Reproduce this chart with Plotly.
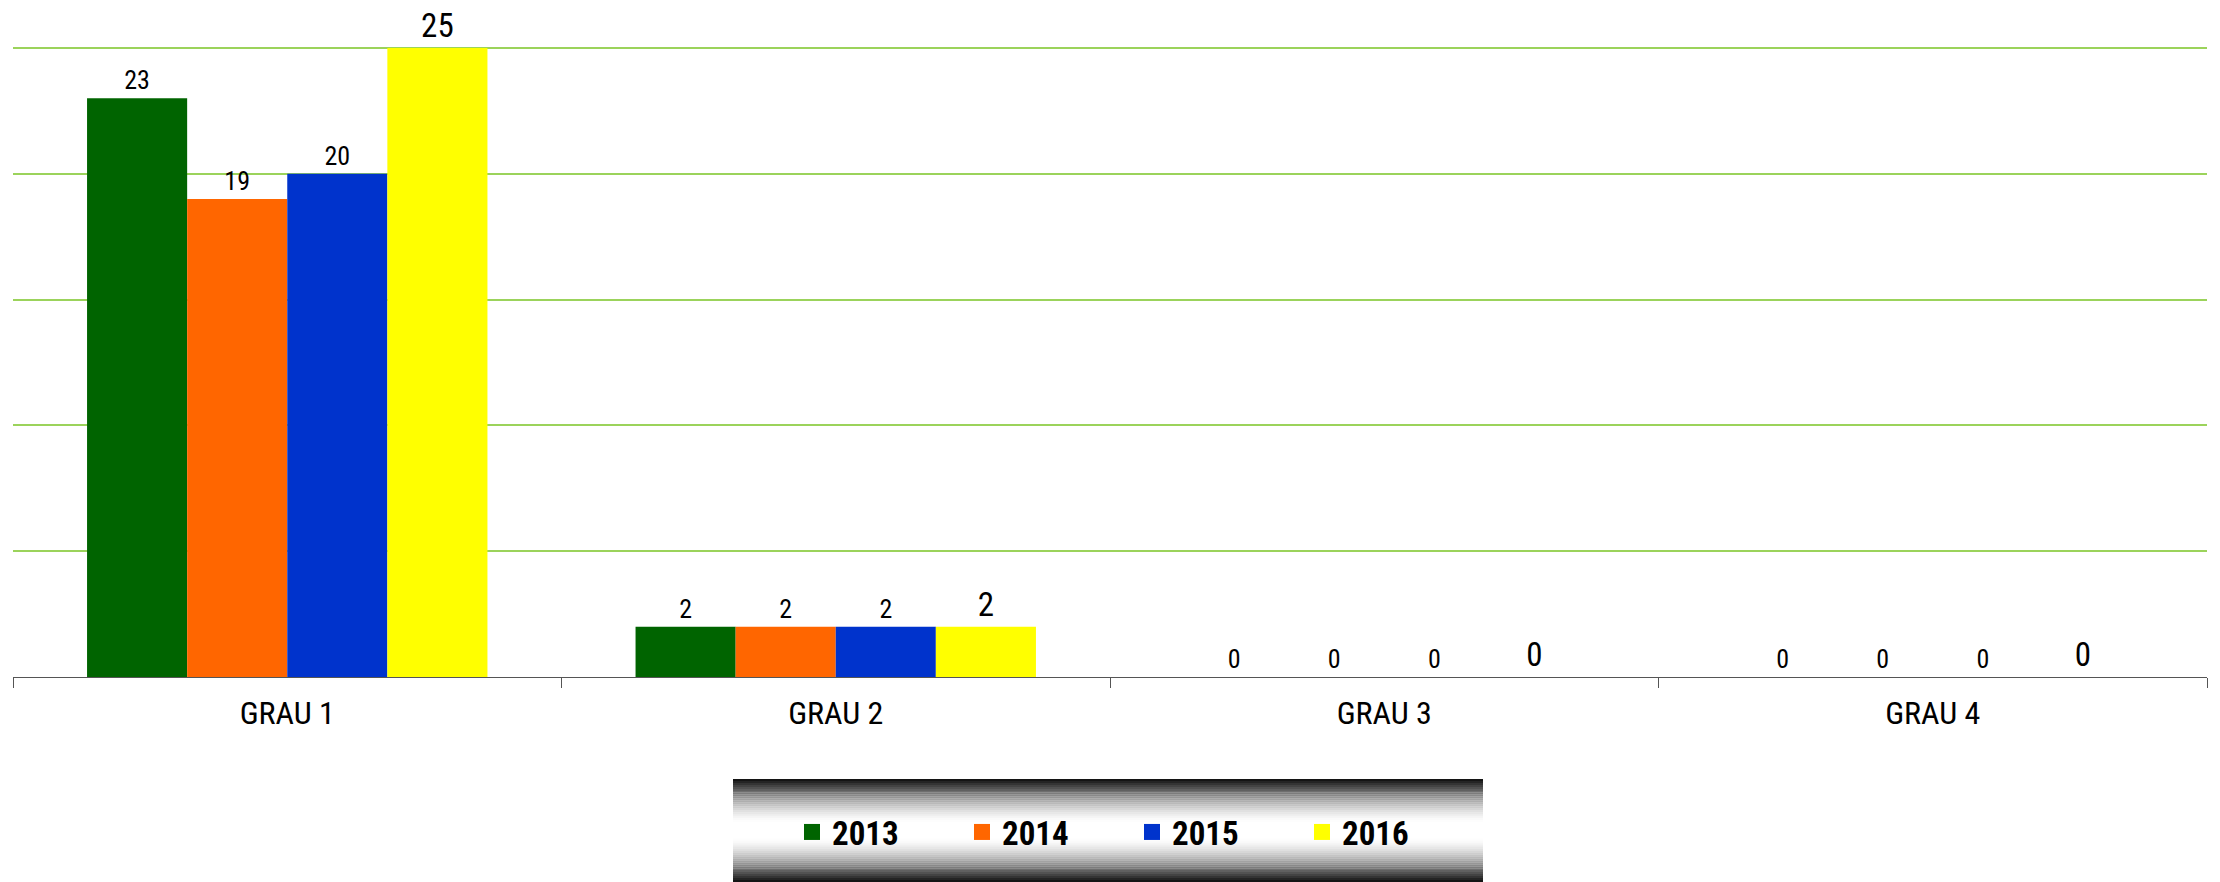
import plotly.graph_objects as go

categories = ["GRAU 1", "GRAU 2", "GRAU 3", "GRAU 4"]
years = ["2013", "2014", "2015", "2016"]
v2013 = [23, 2, 0, 0]
v2014 = [19, 2, 0, 0]
v2015 = [20, 2, 0, 0]
v2016 = [25, 2, 0, 0]
y_ticks = [0, 5, 10, 15, 20, 25]

series = [v2013, v2014, v2015, v2016]
colors = ["#006400", "#FF6600", "#0033CC", "#FFFF00"]
label_sizes = [26, 26, 26, 33]

FONT = "Roboto Condensed, Liberation Sans Narrow, Liberation Sans, sans-serif"

W, H = 2220, 882
ML, MR, MT, MB = 13, 13, 46, 205
PH = H - MT - MB
PW = W - ML - MR

fig = go.Figure()
for name, vals, col, fs in zip(years, series, colors, label_sizes):
    fig.add_trace(go.Bar(
        x=categories, y=vals, name=name,
        marker=dict(color=col, line=dict(width=0)),
        text=[str(v) for v in vals], textposition="outside",
        textfont=dict(family=FONT, size=fs, color="black"),
        cliponaxis=False, showlegend=False,
    ))
    fig.add_trace(go.Scatter(
        x=[None], y=[None], name=name, mode="markers",
        marker=dict(symbol="square", size=18, color=col),
        showlegend=True,
    ))

# gradient legend background (style only)
bx0, bx1 = 733, 1483
by_top, by_bot = 779, 882
plot_bottom = MT + PH
x0, x1 = (bx0 - ML) / PW, (bx1 - ML) / PW
n = 52
for i in range(n):
    t = (i + 0.5) / n
    d = abs(t - 0.5) * 2
    v = int(255 - (255 - 12) * min(1, max(0, (d - 0.15) / 0.85)) ** 1.5)
    ya = (plot_bottom - (by_top + (by_bot - by_top) * i / n)) / PH
    yb = (plot_bottom - (by_top + (by_bot - by_top) * (i + 1) / n)) / PH
    fig.add_shape(type="rect", xref="paper", yref="paper",
                  x0=x0, x1=x1, y0=yb, y1=ya,
                  fillcolor=f"rgb({v},{v},{v})", line=dict(width=0), layer="below")

legend_y = (plot_bottom - 832) / PH

fig.update_layout(
    width=W, height=H,
    margin=dict(l=ML, r=MR, t=MT, b=MB, autoexpand=False),
    paper_bgcolor="white", plot_bgcolor="white",
    barmode="group", bargap=0.27, bargroupgap=0,
    showlegend=True,
    legend=dict(orientation="h", x=(1132 - ML) / PW, xanchor="center", y=legend_y, yanchor="middle",
                bgcolor="rgba(0,0,0,0)", font=dict(family=FONT, size=33, color="black", weight="bold"),
                entrywidth=125, entrywidthmode="pixels", itemwidth=30),
    xaxis=dict(showline=True, linecolor="#555555", linewidth=1, ticks="outside",
               tickson="boundaries", ticklen=10, tickcolor="#555555", ticklabelstandoff=8,
               tickfont=dict(family=FONT, size=32, color="black"), showgrid=False),
    yaxis=dict(range=[0, 25.08], tickvals=y_ticks, showticklabels=False, showgrid=True,
               gridcolor="#9BD35B", gridwidth=1.5, zeroline=False, showline=False),
    font=dict(family=FONT),
)

fig.write_html("out.html", config={"displayModeBar": False},
               post_script="document.body.style.margin='0px';document.body.style.overflow='hidden';")
